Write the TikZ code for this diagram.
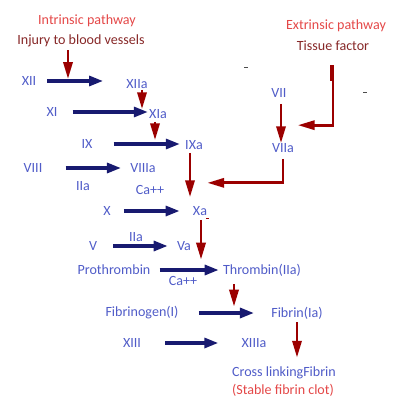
\documentclass[tikz,border=0pt]{standalone}
\usepackage{fontspec}
\setmainfont{Carlito}
\usetikzlibrary{arrows.meta,calc}
\definecolor{cfblue}{RGB}{80,92,200}
\definecolor{cfnavy}{RGB}{24,26,112}
\definecolor{cfred}{RGB}{155,0,0}
\definecolor{cflight}{RGB}{228,72,72}
\definecolor{cfmaroon}{RGB}{135,40,40}

\begin{document}
\begin{tikzpicture}[x=.25mm,y=-.25mm,font=\fontsize{10}{12}\selectfont,
    lbl/.style={inner sep=0pt,text=cfblue},
    navyarr/.style={cfnavy,line width=2.4pt,-{Triangle[length=10pt,width=7pt]}},
    redarr/.style={cfred,line width=2pt,-{Triangle[length=12pt,width=6.5pt]}},
    gaps/.style 2 args={shorten <=#1*.25mm,shorten >=#2*.25mm}]
    \useasboundingbox (0,0) rectangle (400,405);
    \node[lbl,text=cflight] (intr) at (87,21) {Intrinsic pathway};
    \node[lbl,text=cfmaroon] (injury) at (81,41) {Injury to blood vessels};
    \node[lbl,text=cflight] (extr) at (336,26) {Extrinsic pathway};
    \node[lbl,text=cfmaroon] (tissue) at (333,46) {Tissue factor};
    \node[lbl] (XII) at (29,81) {XII};
    \node[lbl] (XIIa) at (137,84) {XIIa};
    \node[lbl] (XI) at (52,112) {XI};
    \node[lbl] (XIa) at (158,114) {XIa};
    \node[lbl] (IX) at (87,144) {IX};
    \node[lbl] (IXa) at (194,145) {IXa};
    \node[lbl] (VIII) at (33,168) {VIII};
    \node[lbl] (VIIIa) at (143,168) {VIIIa};
    \node[lbl] (IIa) at (83,186) {IIa};
    \node[lbl] (ca) at (150,190) {Ca++};
    \node[lbl] (X) at (107,211) {X};
    \node[lbl] (Xa) at (200,211) {Xa};
    \node[lbl] (V) at (93,246) {V};
    \node[lbl] (IIb) at (136,237) {IIa};
    \node[lbl] (Va) at (184,246) {Va};
    \node[lbl] (pro) at (114,270) {Prothrombin};
    \node[lbl] (thr) at (262,270) {Thrombin(IIa)};
    \node[lbl] (cb) at (183,281) {Ca++};
    \node[lbl] (fgn) at (142,313) {Fibrinogen(I)};
    \node[lbl] (fbn) at (297,313) {Fibrin(Ia)};
    \node[lbl] (XIII) at (132,343) {XIII};
    \node[lbl] (XIIIa) at (254,343) {XIIIa};
    \node[lbl] (cross) at (284,373) {Cross linkingFibrin};
    \node[lbl,text=cflight] (clot) at (283,390) {(Stable fibrin clot)};
    \node[lbl] (VII) at (279,93) {VII};
    \node[lbl] (VIIa) at (283,148) {VIIa};
    \draw[navyarr,gaps={11}{23}] (XII) -- (XII -| XIIa.west);
    \draw[navyarr,gaps={15}{1}] (XI) -- (XI -| XIa.west);
    \draw[navyarr,gaps={21}{5}] (IX) -- (IX -| IXa.west);
    \draw[navyarr,gaps={23}{9}] (VIII) -- (VIII -| VIIIa.west);
    \draw[navyarr,gaps={13}{13}] (X) -- (X -| Xa.west);
    \draw[navyarr,gaps={16}{9}] (V) -- (V -| Va.west);
    \draw[navyarr,gaps={9}{4}] (pro) -- (pro -| thr.west);
    \draw[navyarr,gaps={20}{17}] (fgn) -- (fgn -| fbn.west);
    \draw[navyarr,gaps={24}{23}] (XIII) -- (XIII -| XIIIa.west);
    \draw[redarr,gaps={0}{2}] (injury.south) ++(-13,3) coordinate (r1) -- (r1 |- XII);
    \draw[redarr] (XIIa.south) ++(5,1) coordinate (r2) -- (r2 |- XIa.north);
    \draw[redarr] (XIa.south) ++(-3,3) coordinate (r3) -- (r3 |- IXa.north);
    \draw[redarr,gaps={0}{9}] (IXa.south) ++(-4,3) coordinate (r4) -- (r4 |- Xa.north);
    \draw[redarr,gaps={0}{4}] (Xa.south) ++(1,4) coordinate (r5) -- (r5 |- thr.north);
    \draw[redarr] (thr.south) ++(-28,8) coordinate (r6) -- (r6 |- fbn.north);
    \draw[redarr,gaps={0}{9}] (fbn.south) ++(0,3) coordinate (r7) -- (r7 |- cross.north);
    \draw[redarr] (VII.south) ++(2,6) coordinate (r8) -- (r8 |- VIIa.north);
    \draw[cfred,line width=2.8pt] (tissue.south) ++(-1,14) -- ++(0,16);
    \draw[redarr,gaps={0}{11}] (tissue.south) ++(0,14) -- ++(0,60) coordinate (r9) -- (r9 -| VII.east);
    \draw[redarr] (VIIa.south) ++(0,6) -- ++(0,24) coordinate (r10) -- (r10 -| Xa.east);
    \draw[gray!60!black,line width=.5pt] (244,67) -- (248,67) (363,92) -- (367,92);
    \draw[cfred,line width=.5pt] (206,218) -- (209,218);
  \end{tikzpicture}
\end{document}
